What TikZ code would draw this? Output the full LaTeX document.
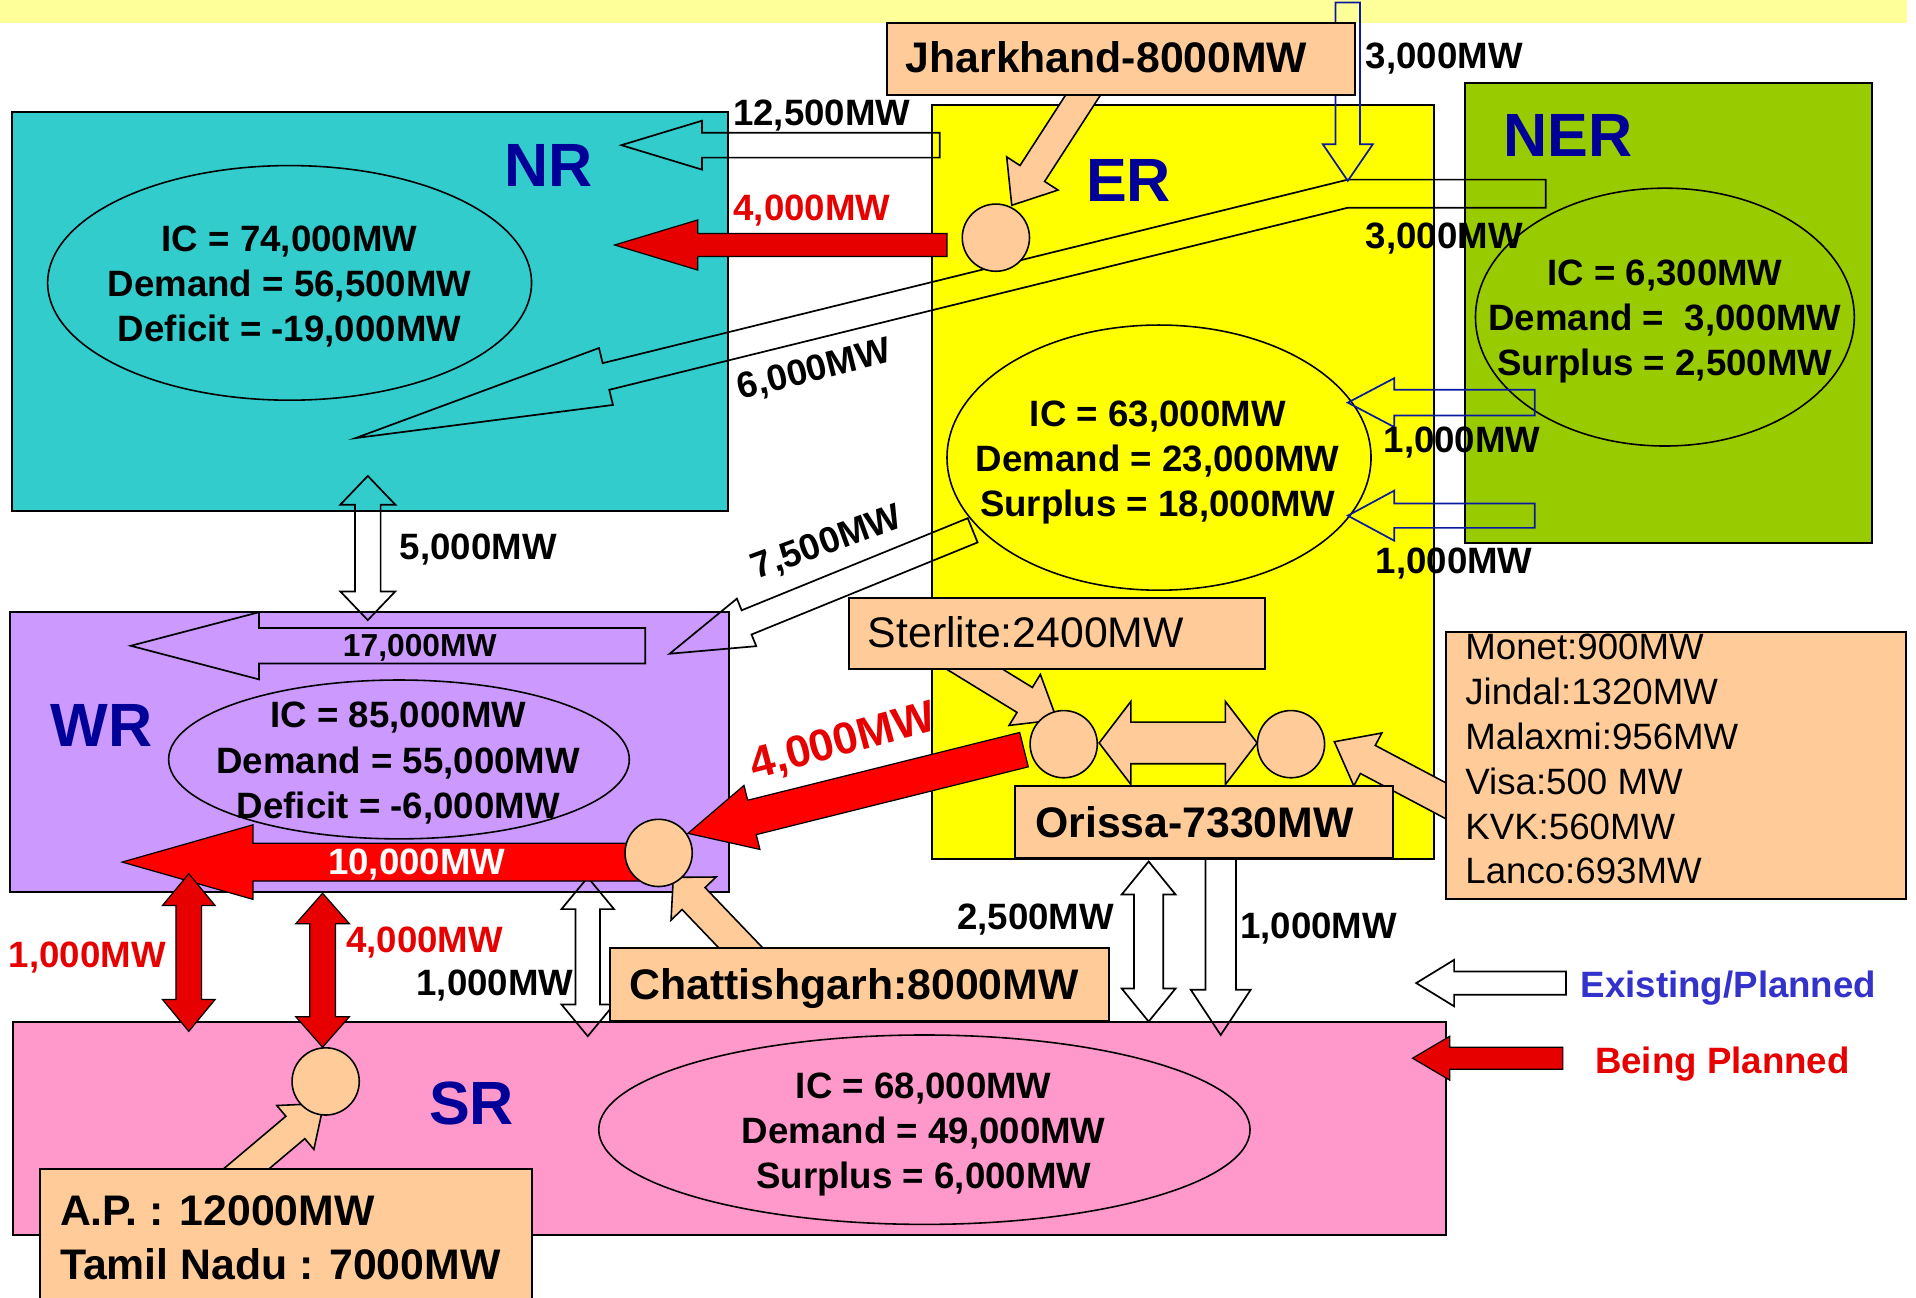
\documentclass[tikz,border=0pt]{standalone}
\usepackage{fontspec}
\setmainfont{Liberation Sans}
\usetikzlibrary{calc}
\definecolor{nrcol}{HTML}{33CCCC}
\definecolor{ercol}{HTML}{FFFF00}
\definecolor{nercol}{HTML}{99CC00}
\definecolor{wrcol}{HTML}{CC99FF}
\definecolor{srcol}{HTML}{FF99CC}
\definecolor{peach}{HTML}{FFCC99}
\definecolor{bandcol}{HTML}{FFFF99}
\definecolor{navycol}{HTML}{000099}
\definecolor{redA}{HTML}{FF0000}
\definecolor{redB}{HTML}{E60000}
\definecolor{legblue}{HTML}{3333CC}
\definecolor{arrblue}{HTML}{0A1AA0}

% style, tail, tip, shaft half width, head half width, head length (pt)
\newcommand\blockarrow[6]{%
  \coordinate (bahead) at ($(#3)!#6pt!(#2)$);%
  \draw[#1] ($(#2)!#4pt!90:(#3)$) -- ($(bahead)!#4pt!90:(#3)$) -- ($(bahead)!#5pt!90:(#3)$) -- (#3) -- ($(bahead)!#5pt!-90:(#3)$) -- ($(bahead)!#4pt!-90:(#3)$) -- ($(#2)!#4pt!-90:(#3)$) -- cycle;}
% style, end A, end B, shaft half width, head half width, head length (pt)
\newcommand\dblarrow[6]{%
  \coordinate (daone) at ($(#2)!#6pt!(#3)$);%
  \coordinate (datwo) at ($(#3)!#6pt!(#2)$);%
  \draw[#1] (#2) -- ($(daone)!#5pt!90:(#3)$) -- ($(daone)!#4pt!90:(#3)$) -- ($(datwo)!#4pt!90:(#3)$) -- ($(datwo)!#5pt!90:(#3)$) -- (#3) -- ($(datwo)!#5pt!-90:(#3)$) -- ($(datwo)!#4pt!-90:(#3)$) -- ($(daone)!#4pt!-90:(#3)$) -- ($(daone)!#5pt!-90:(#3)$) -- cycle;}

\begin{document}
\begin{tikzpicture}[x=1pt,y=-1pt,line join=miter,
  regionbox/.style={draw=black,line width=1.6pt},
  ovalline/.style={draw=black,line width=1.3pt},
  hollowarrow/.style={draw=black,line width=1.4pt},
  bluearrow/.style={draw=arrblue,line width=1.4pt},
  redarrow/.style={draw=black,fill=redA,line width=1pt},
  darkredarrow/.style={draw=black,fill=redB,line width=1pt},
  peacharrow/.style={draw=black,fill=peach,line width=1.3pt},
  dotcircle/.style={circle,draw=black,fill=peach,line width=1.3pt,minimum size=55pt,inner sep=0pt},
  peachbox/.style={draw=black,fill=peach,line width=1.6pt},
  lab/.style={font=\fontsize{30}{37}\selectfont\bfseries,inner sep=0pt,anchor=base},
  boxtxt/.style={font=\fontsize{35}{44}\selectfont\bfseries,inner sep=0pt,anchor=base west},
  boxtxtr/.style={font=\fontsize{35}{44}\selectfont,inner sep=0pt,anchor=base west},
  listtxt/.style={font=\fontsize{30}{37}\selectfont,inner sep=0pt,anchor=base west},
  bigtxt/.style={font=\fontsize{50}{60}\selectfont\bfseries,text=navycol,inner sep=0pt,anchor=base}]
\useasboundingbox (0,0) rectangle (1568,1062);
\fill[white] (0,0) rectangle (1568,1062);
\fill[bandcol] (0,0) rectangle (1561,18.5);

% regions
\draw[regionbox,fill=nrcol] (10,92) rectangle (596,418.5);
\draw[regionbox,fill=ercol] (763,86) rectangle (1173.5,703);
\draw[regionbox,fill=nercol] (1199,68) rectangle (1532,444);
\draw[regionbox,fill=wrcol] (8,501) rectangle (596.5,730);
\draw[regionbox,fill=srcol] (11,836.5) rectangle (1183,1011);

% ellipses
\draw[ovalline] (237,231.5) ellipse [x radius=198pt,y radius=96pt];
\draw[ovalline] (1362.5,259.5) ellipse [x radius=155pt,y radius=105.5pt];
\draw[ovalline] (948.5,374.5) ellipse [x radius=173.5pt,y radius=108.5pt];
\draw[ovalline] (326.5,621.5) ellipse [x radius=188.5pt,y radius=65pt];
\draw[ovalline] (756.5,924.5) ellipse [x radius=266.5pt,y radius=77.5pt];

% region names
\node[bigtxt] (nrname) at (449,152.9) {NR};
\node[bigtxt] (ername) at (923.5,164.9) {ER};
\node[bigtxt] (nername) at (1283,127.9) {NER};
\node[bigtxt] (wrname) at (83,610.9) {WR};
\node[bigtxt] (srname) at (386,919.9) {SR};

% ellipse texts
\node[lab] (nr1) at (237,205.7) {IC = 74,000MW};
\node[lab] (nr2) at (237,242.7) {Demand = 56,500MW};
\node[lab] (nr3) at (237,279.7) {Deficit = -19,000MW};
\node[lab] (ne1) at (1362.5,233.7) {IC = 6,300MW};
\node[lab] (ne2) at (1362.5,270.7) {Demand = \ 3,000MW};
\node[lab] (ne3) at (1362.5,307.7) {Surplus = 2,500MW};
\node[lab] (er1) at (947.5,348.7) {IC = 63,000MW};
\node[lab] (er2) at (947.5,385.7) {Demand = 23,000MW};
\node[lab] (er3) at (947.5,422.7) {Surplus = 18,000MW};
\node[lab] (wr1) at (326,595.7) {IC = 85,000MW};
\node[lab] (wr2) at (326,632.7) {Demand = 55,000MW};
\node[lab] (wr3) at (326,669.7) {Deficit = -6,000MW};
\node[lab] (sr1) at (756,898.7) {IC = 68,000MW};
\node[lab] (sr2) at (756,935.7) {Demand = 49,000MW};
\node[lab] (sr3) at (756,972.7) {Surplus = 6,000MW};

% hollow arrows (existing / planned)
\coordinate (a12t) at (769,118.8); \coordinate (a12h) at (508.5,118.8);
\blockarrow{hollowarrow}{a12t}{a12h}{10.2}{20}{66}
\draw[hollowarrow] (1265,147) -- (1103,147) -- (493.2,297.2) -- (490.2,284.8) -- (291,358.5) -- (501.6,331.4) -- (498.6,319) -- (1103,170) -- (1265,170) -- cycle;
\coordinate (a5a) at (301,389.5); \coordinate (a5b) at (301,507.5);
\dblarrow{hollowarrow}{a5a}{a5b}{10.5}{22.5}{23.5}
\coordinate (a17t) at (528,528.5); \coordinate (a17h) at (107,528.5);
\blockarrow{hollowarrow}{a17t}{a17h}{14.5}{27.5}{105}
\coordinate (a75t) at (796,434); \coordinate (a75h) at (548,535);
\blockarrow{hollowarrow}{a75t}{a75h}{10.7}{21}{68}
\coordinate (a25a) at (940,705); \coordinate (a25b) at (940,836);
\dblarrow{hollowarrow}{a25a}{a25b}{12}{22}{27}
\coordinate (a10t) at (999,703); \coordinate (a10h) at (999,847);
\blockarrow{hollowarrow}{a10t}{a10h}{12.5}{24.5}{37}
\coordinate (a1wa) at (481,718); \coordinate (a1wb) at (481,848);
\dblarrow{hollowarrow}{a1wa}{a1wb}{10}{21.5}{26}
\coordinate (legAt) at (1281.5,804.5); \coordinate (legAh) at (1159,804.5);
\blockarrow{hollowarrow}{legAt}{legAh}{9.5}{19}{31}

% blue arrows
\coordinate (b3t) at (1103,2); \coordinate (b3h) at (1103,148);
\blockarrow{bluearrow}{b3t}{b3h}{10}{20.5}{30}
\coordinate (b1t) at (1256,329.5); \coordinate (b1h) at (1103,329.5);
\blockarrow{bluearrow}{b1t}{b1h}{10.5}{20}{38}
\coordinate (b2t) at (1256,422); \coordinate (b2h) at (1103,422);
\blockarrow{bluearrow}{b2t}{b2h}{10}{20.5}{38}

% red arrows (being planned)
\coordinate (r4t) at (775,200.5); \coordinate (r4h) at (503,200.5);
\blockarrow{darkredarrow}{r4t}{r4h}{9.5}{20.5}{68}
\coordinate (r10t) at (530,705.5); \coordinate (r10h) at (100,705.5);
\blockarrow{redarrow}{r10t}{r10h}{15.5}{30.5}{107}
\coordinate (rdt) at (838,613.5); \coordinate (rdh) at (563,682);
\blockarrow{redarrow}{rdt}{rdh}{14.5}{27}{54}
\coordinate (rla) at (154.5,715); \coordinate (rlb) at (154.5,844);
\dblarrow{darkredarrow}{rla}{rlb}{10.5}{21.5}{26}
\coordinate (rra) at (264,731); \coordinate (rrb) at (264,857);
\dblarrow{darkredarrow}{rra}{rrb}{10.5}{22}{25}
\coordinate (legBt) at (1279,866); \coordinate (legBh) at (1156,866);
\blockarrow{darkredarrow}{legBt}{legBh}{9}{18}{30.5}

% peach arrows
\coordinate (pjt) at (892,69); \coordinate (pjh) at (828,168);
\blockarrow{peacharrow}{pjt}{pjh}{12}{25}{31}
\coordinate (pst) at (777,535); \coordinate (psh) at (865,589);
\blockarrow{peacharrow}{pst}{psh}{12}{24.5}{31}
\coordinate (pda) at (899.5,608); \coordinate (pdb) at (1028.8,608);
\dblarrow{peacharrow}{pda}{pdb}{17}{34}{26}
\coordinate (pmt) at (1192,660); \coordinate (pmh) at (1092,607);
\blockarrow{peacharrow}{pmt}{pmh}{13}{24.5}{31}
\coordinate (pct) at (617,787); \coordinate (pch) at (551,718);
\blockarrow{peacharrow}{pct}{pch}{13}{25.5}{24}
\coordinate (pat) at (188,968); \coordinate (pah) at (265,903);
\blockarrow{peacharrow}{pat}{pah}{12}{23.5}{30.5}

% circles
\node[dotcircle] (jhc) at (815,194.5) {};
\node[dotcircle] (stl) at (870.5,609) {};
\node[dotcircle] (str) at (1056.5,609) {};
\node[dotcircle] (wrc) at (539,698) {};
\node[dotcircle] (src) at (266.5,885) {};

% boxes
\draw[peachbox] (726,19) rectangle (1108.5,78);
\node[boxtxt] (jhtxt) at (741,59.5) {Jharkhand-8000MW};
\draw[peachbox] (695,489) rectangle (1035,547.5);
\node[boxtxtr] (sttxt) at (710,530) {Sterlite:2400MW};
\draw[peachbox] (831,643.5) rectangle (1140,702);
\node[boxtxt] (ortxt) at (847,685) {Orissa-7330MW};
\draw[peachbox] (499,776) rectangle (907.5,835.5);
\node[boxtxt] (chtxt) at (515,818.3) {Chattishgarh:8000MW};
\draw[peachbox] (33,956.5) rectangle (435,1075);
\node[boxtxt] (aptxt) at (49,1002.5) {A.P. : 12000MW};
\node[boxtxt] (tntxt) at (49,1047) {Tamil Nadu : 7000MW};
\fill[peach] (1183,517) rectangle (1560,736);
\begin{scope}
\clip (1183,517) rectangle (1560,736);
\node[listtxt] (m1) at (1199,540) {Monet:900MW};
\node[listtxt] (m2) at (1199,576.7) {Jindal:1320MW};
\node[listtxt] (m3) at (1199,613.3) {Malaxmi:956MW};
\node[listtxt] (m4) at (1199,650) {Visa:500 MW};
\node[listtxt] (m5) at (1199,686.7) {KVK:560MW};
\node[listtxt] (m6) at (1199,723.3) {Lanco:693MW};
\end{scope}
\draw[black,line width=1.6pt] (1183,517) rectangle (1560,736);

% flow labels
\node[lab] (l12500) at (672.5,102.7) {12,500MW};
\node[lab,text=redB] (l4000a) at (664.5,180.7) {4,000MW};
\node[lab] (l3000a) at (1182,56.2) {3,000MW};
\node[lab] (l3000b) at (1182,203.7) {3,000MW};
\node[lab,anchor=center,rotate=14] (l6000) at (666.5,303.5) {6,000MW};
\node[lab] (l1000a) at (1196.5,370.7) {1,000MW};
\node[lab] (l1000b) at (1190,469.7) {1,000MW};
\node[lab] (l5000) at (391.5,457.7) {5,000MW};
\node[lab,anchor=center,rotate=20] (l7500) at (677,445) {7,500MW};
\node[lab,font=\fontsize{26}{30}\selectfont\bfseries] (l17000) at (343.5,537.3) {17,000MW};
\node[lab,anchor=center,rotate=15,text=redB,font=\fontsize{36.5}{44}\selectfont\bfseries] (l4000b) at (690,608) {4,000MW};
\node[lab,text=white] (l10000) at (341,715.7) {10,000MW};
\node[lab,text=redB] (l1000c) at (71.5,791.7) {1,000MW};
\node[lab,text=redB] (l4000c) at (347.5,779.7) {4,000MW};
\node[lab] (l1000d) at (405,814.7) {1,000MW};
\node[lab] (l2500) at (847.5,760.7) {2,500MW};
\node[lab] (l1000e) at (1079,767.7) {1,000MW};
\node[lab,text=legblue] (legA) at (1414.5,816.7) {Existing/Planned};
\node[lab,text=redB] (legB) at (1409.5,878.7) {Being Planned};
\end{tikzpicture}
\end{document}
